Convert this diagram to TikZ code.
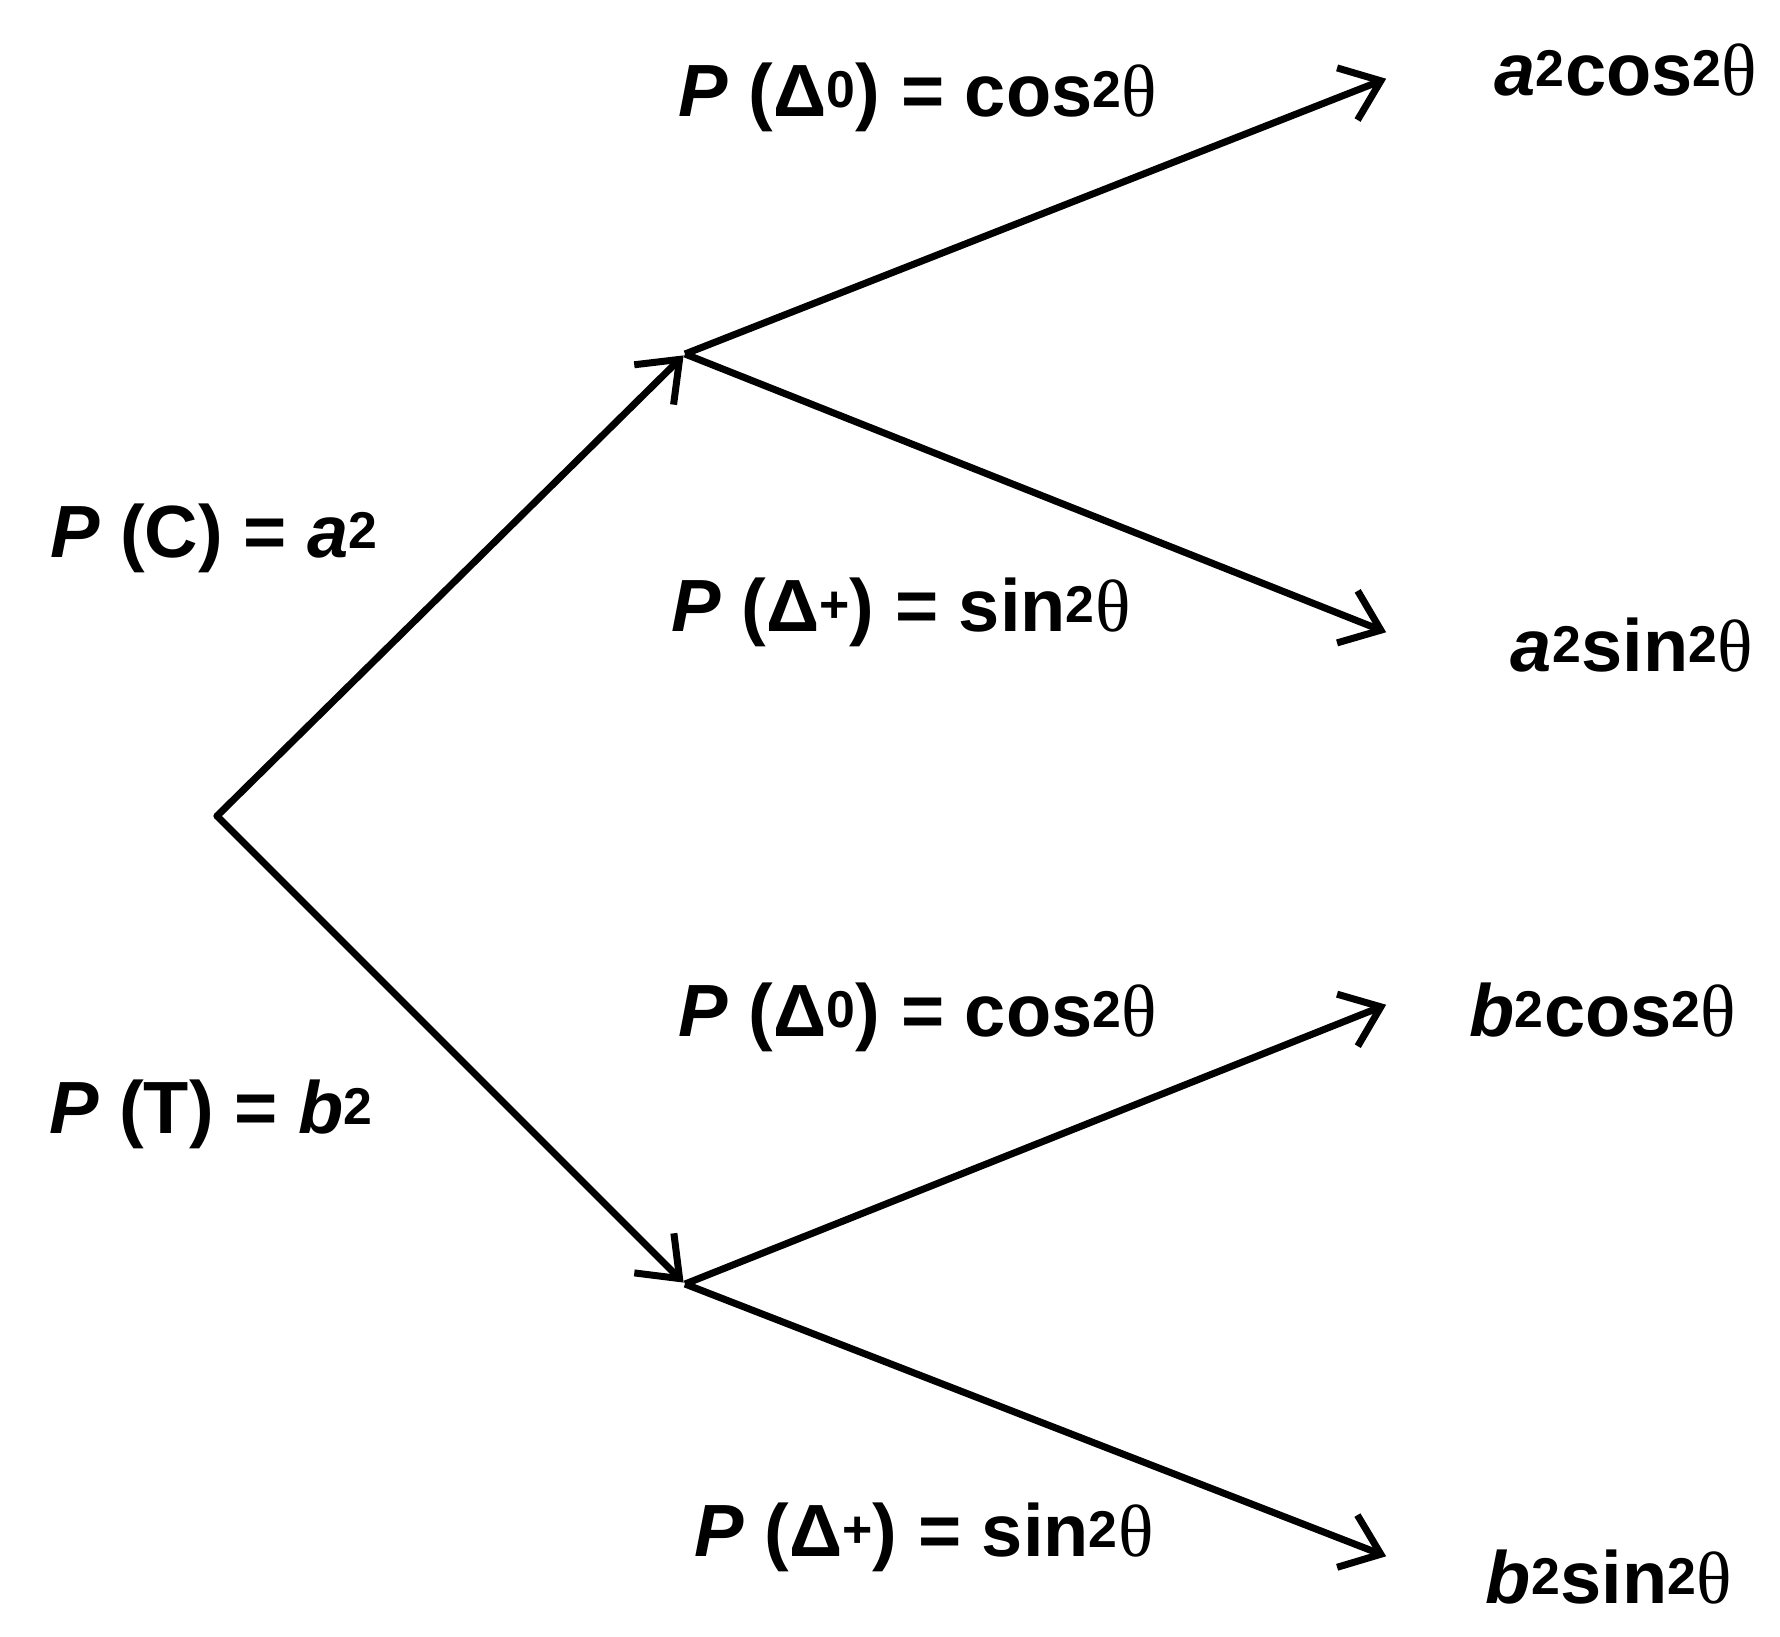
\documentclass[tikz,border=0pt]{standalone}
\usepackage{fontspec}
\setmainfont{Liberation Sans}
\newfontfamily\serifth{Liberation Serif}
\usetikzlibrary{arrows.meta}
\newcommand{\thh}{{\serifth\mdseries θ}}
\begin{document}
\begin{tikzpicture}[x=1pt,y=-1pt,
  br/.style={line width=7pt,-{Straight Barb[length=36pt,width=56pt,line width=7pt]},shorten >=2pt},
  lab/.style={font=\fontsize{74}{84}\selectfont\bfseries,inner sep=0pt}]
\useasboundingbox (0,0) rectangle (1780,1637);
\coordinate (r) at (217,816);
\coordinate (m1) at (685,354);
\coordinate (m2) at (685,1284);
\coordinate (e1) at (1388,78);
\coordinate (e2) at (1388,633);
\coordinate (e3) at (1388,1004);
\coordinate (e4) at (1388,1557);
\draw[br,line cap=round] (r) -- (m1);
\draw[br,line cap=round] (r) -- (m2);
\draw[br] (m1) -- (e1);
\draw[br] (m1) -- (e2);
\draw[br] (m2) -- (e3);
\draw[br] (m2) -- (e4);
\node[lab] (l1) at (214,538) {\textit{P} (C) = \textit{a}\textsuperscript{2}};
\node[lab] (l2) at (211,1114) {\textit{P} (T) = \textit{b}\textsuperscript{2}};
\node[lab] (l3) at (918,97) {\textit{P} (Δ\textsuperscript{0}) = cos\textsuperscript{2}\thh};
\node[lab] (l4) at (901,612) {\textit{P} (Δ\textsuperscript{+}) = sin\textsuperscript{2}\thh};
\node[lab] (l5) at (918,1017) {\textit{P} (Δ\textsuperscript{0}) = cos\textsuperscript{2}\thh};
\node[lab] (l6) at (924,1537) {\textit{P} (Δ\textsuperscript{+}) = sin\textsuperscript{2}\thh};
\node[lab] (o1) at (1626,70) {\textit{a}\textsuperscript{2}cos\textsuperscript{2}\thh};
\node[lab] (o2) at (1632,645) {\textit{a}\textsuperscript{2}sin\textsuperscript{2}\thh};
\node[lab] (o3) at (1603,1010) {\textit{b}\textsuperscript{2}cos\textsuperscript{2}\thh};
\node[lab] (o4) at (1609,1577) {\textit{b}\textsuperscript{2}sin\textsuperscript{2}\thh};
\end{tikzpicture}
\end{document}
